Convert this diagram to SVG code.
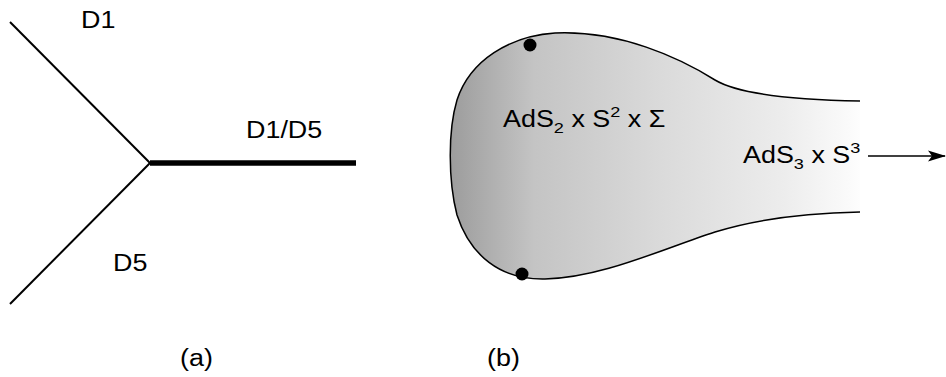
<svg xmlns="http://www.w3.org/2000/svg" width="946" height="377" viewBox="0 0 946 377">
<style>
text{font-family:"Liberation Sans",Arial,sans-serif;font-size:23px;fill:#000}
.sub{font-size:15.5px}
.ln{stroke:#000;fill:none;stroke-width:2}
</style>
<defs>
<linearGradient id="g" x1="450" y1="0" x2="870" y2="0" gradientUnits="userSpaceOnUse">
<stop offset="0" stop-color="#9c9c9c"/>
<stop offset="0.2" stop-color="#c4c4c4"/>
<stop offset="0.5" stop-color="#dadada"/>
<stop offset="0.8" stop-color="#ededed"/>
<stop offset="1" stop-color="#ffffff"/>
</linearGradient>
<marker id="ah" markerWidth="18" markerHeight="12" refX="17" refY="6" orient="auto" markerUnits="userSpaceOnUse">
<path d="M0,0.5 L18,6 L0,11.5 L4,6 Z" fill="#000"/>
</marker>
</defs>
<g id="diagram-a">
<line class="ln" x1="10" y1="22" x2="150" y2="163"/>
<line class="ln" x1="150" y1="163" x2="10" y2="304"/>
<line x1="150" y1="163" x2="356" y2="163" stroke="#000" stroke-width="5.5"/>
<text transform="translate(81,28) scale(1.17,1)">D1</text>
<text transform="translate(246,138) scale(1.17,1)">D1/D5</text>
<text transform="translate(113,271) scale(1.17,1)">D5</text>
<text transform="translate(180,366) scale(1.17,1)">(a)</text>
</g>
<g id="diagram-b">
<path d="M860,101 C800,100 740,95 715,80 C680,58 620,30 555,33 C510,36 470,60 457,100 C448,130 448,180 457,215 C470,255 500,280 545,279 C600,278 660,250 715,232 C760,218 810,213 860,212" fill="url(#g)" stroke="none"/>
<path d="M860,101 C800,100 740,95 715,80 C680,58 620,30 555,33 C510,36 470,60 457,100 C448,130 448,180 457,215 C470,255 500,280 545,279 C600,278 660,250 715,232 C760,218 810,213 860,212" fill="none" stroke="#000" stroke-width="1.5"/>
<circle cx="530" cy="45" r="6.5" fill="#000"/>
<circle cx="522" cy="274" r="6.5" fill="#000"/>
<text transform="translate(503,127) scale(1.17,1)">AdS<tspan class="sub" dy="6">2</tspan><tspan dy="-6"> x S</tspan><tspan class="sub" dy="-10">2</tspan><tspan dy="10"> x Σ</tspan></text>
<text transform="translate(743,163) scale(1.17,1)">AdS<tspan class="sub" dy="6">3</tspan><tspan dy="-6"> x S</tspan><tspan class="sub" dy="-10">3</tspan></text>
<text transform="translate(487,366) scale(1.17,1)">(b)</text>
</g>
<g id="connectors">
<line x1="868" y1="156" x2="945" y2="156" stroke="#000" stroke-width="1.5" marker-end="url(#ah)"/>
</g>
</svg>
